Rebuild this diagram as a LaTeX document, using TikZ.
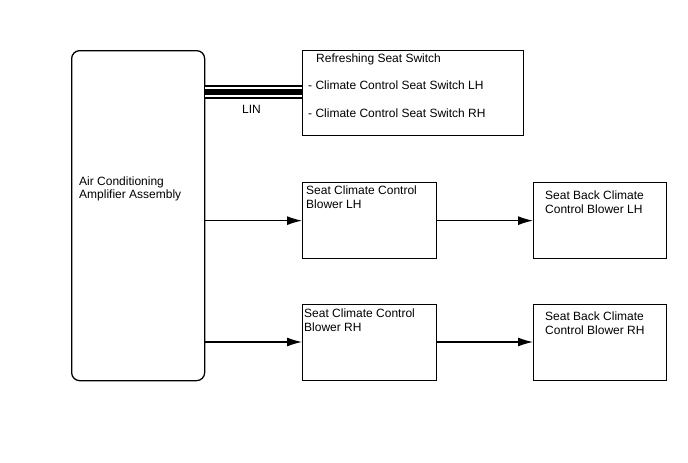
\documentclass[tikz,border=0pt]{standalone}
\usepackage{fontspec}
\setmainfont{Liberation Sans}
\usetikzlibrary{arrows.meta}
\begin{document}
\begin{tikzpicture}[x=1pt,y=-1pt,
  box/.style={draw,line width=1.3pt,inner sep=0pt,anchor=north west},
  txt/.style={font=\fontsize{12}{14}\selectfont,inner sep=0pt,anchor=base west},
  arr/.style={line width=1.2pt,-{Latex[length=15pt,width=9pt]}}]
\useasboundingbox (0,0) rectangle (688,463);
\node[box,rounded corners=8pt,minimum width=133pt,minimum height=330pt] (amp) at (71,50) {};
\node[box,minimum width=221pt,minimum height=85pt] (sw) at (302,50) {};
\node[box,minimum width=134pt,minimum height=76pt] (blh) at (302,182) {};
\node[box,minimum width=133pt,minimum height=76pt] (bblh) at (533,182) {};
\node[box,minimum width=134pt,minimum height=76pt] (brh) at (302,304) {};
\node[box,minimum width=133pt,minimum height=76pt] (bbrh) at (533,304) {};
% texts
\node[txt] (t1) at (79,185) {Air Conditioning};
\node[txt] (t2) at (79,198) {Amplifier Assembly};
\node[txt] (t3) at (316,62) {Refreshing Seat Switch};
\node[txt] (t4) at (308,89) {- Climate Control Seat Switch LH};
\node[txt] (t5) at (308,117) {- Climate Control Seat Switch RH};
\node[txt] (lin) at (242,113) {LIN};
\node[txt] (t6) at (306,194) {Seat Climate Control};
\node[txt] (t7) at (306,208) {Blower LH};
\node[txt] (t8) at (545,199) {Seat Back Climate};
\node[txt] (t9) at (545,213) {Control Blower LH};
\node[txt] (t10) at (304,317) {Seat Climate Control};
\node[txt] (t11) at (304,331) {Blower RH};
\node[txt] (t12) at (545,320) {Seat Back Climate};
\node[txt] (t13) at (545,334) {Control Blower RH};
% LIN bus
\coordinate (la) at (amp.east |- 0,92);
\coordinate (lb) at (sw.west |- 0,92);
\draw[line width=14pt] (la) -- (lb);
\draw[line width=10.5pt,white] (la) -- (lb);
\draw[line width=6pt] (la) -- (lb);
% arrows
\draw[arr] (amp.east |- blh.west) -- (blh.west);
\draw[arr] (blh.east) -- (bblh.west);
\draw[arr] (amp.east |- 0,342) -- (brh.west |- 0,342);
\draw[arr] (brh.east |- 0,342) -- (bbrh.west |- 0,342);
\end{tikzpicture}
\end{document}
